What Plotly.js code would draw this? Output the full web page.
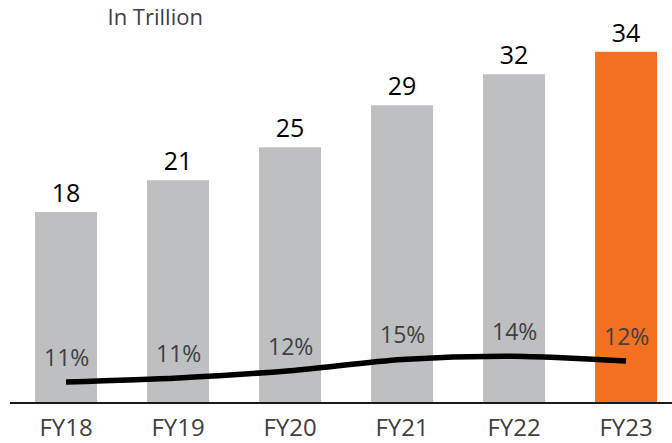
<!DOCTYPE html>
<html>
<head>
<meta charset="utf-8">
<script src="https://cdn.plot.ly/plotly-3.0.1.min.js"></script>
<style>html,body{margin:0;padding:0;background:#fff;}#chart{width:672px;height:443px;}</style>
</head>
<body>
<div id="chart"></div>
<script>
// Data
var years = ["FY18", "FY19", "FY20", "FY21", "FY22", "FY23"];
var barValues = [18.5, 21.6, 24.8, 28.9, 31.9, 34.1];   // bar heights (in trillion)
var barLabels = ["18", "21", "25", "29", "32", "34"];
var lineLevels = [5.0, 6.0, 7.8, 10.6, 11.4, 10.2];     // growth-line positions (secondary scale)
var growthLabels = ["11%", "11%", "12%", "15%", "14%", "12%"];

var grey = "#bebfc1", orange = "#f37120";
var barColors = years.map(function (y, i) { return i === years.length - 1 ? orange : grey; });

var bars = {
  type: "bar",
  x: years,
  y: barValues,
  text: barLabels,
  texttemplate: "%{text}",
  textposition: "outside",
  cliponaxis: false,
  textfont: { family: "Open Sans, sans-serif", size: 25, color: "#000000" },
  marker: { color: barColors, line: { width: 0 } },
  hoverinfo: "skip"
};

var line = {
  type: "scatter",
  mode: "lines",
  x: years,
  y: lineLevels,
  yaxis: "y2",
  line: { color: "#000000", width: 5.5, shape: "spline", smoothing: 0.8 },
  cliponaxis: false,
  hoverinfo: "skip"
};

var annotations = years.map(function (y, i) {
  return {
    x: y, y: lineLevels[i], xref: "x", yref: "y2",
    text: growthLabels[i], showarrow: false,
    yanchor: "middle", yshift: 25,
    font: { family: "Open Sans, sans-serif", size: 23, color: "#404040" }
  };
});

var layout = {
  width: 672, height: 443,
  margin: { l: 10, r: 0, t: 0, b: 41 },
  paper_bgcolor: "#ffffff", plot_bgcolor: "#ffffff",
  showlegend: false,
  bargap: 0.446,
  title: {
    text: "In Trillion",
    xref: "container", yref: "container",
    x: 0.231, xanchor: "center", y: 0.962, yanchor: "middle",
    font: { family: "Open Sans, sans-serif", size: 22, color: "#404040" }
  },
  xaxis: {
    type: "category",
    range: [-0.5, 5.41],
    showline: true, linecolor: "#1a1a1a", linewidth: 1.5,
    ticks: "", showgrid: false, zeroline: false,
    ticklabelstandoff: 4,
    tickfont: { family: "Open Sans, sans-serif", size: 24, color: "#404040" }
  },
  yaxis: {
    range: [0, 39.14], visible: false, showgrid: false, zeroline: false
  },
  yaxis2: {
    range: [0, 100], overlaying: "y", visible: false, showgrid: false, zeroline: false
  },
  annotations: annotations
};

Plotly.newPlot("chart", [bars, line], layout, { displayModeBar: false, staticPlot: true });
</script>
</body>
</html>
